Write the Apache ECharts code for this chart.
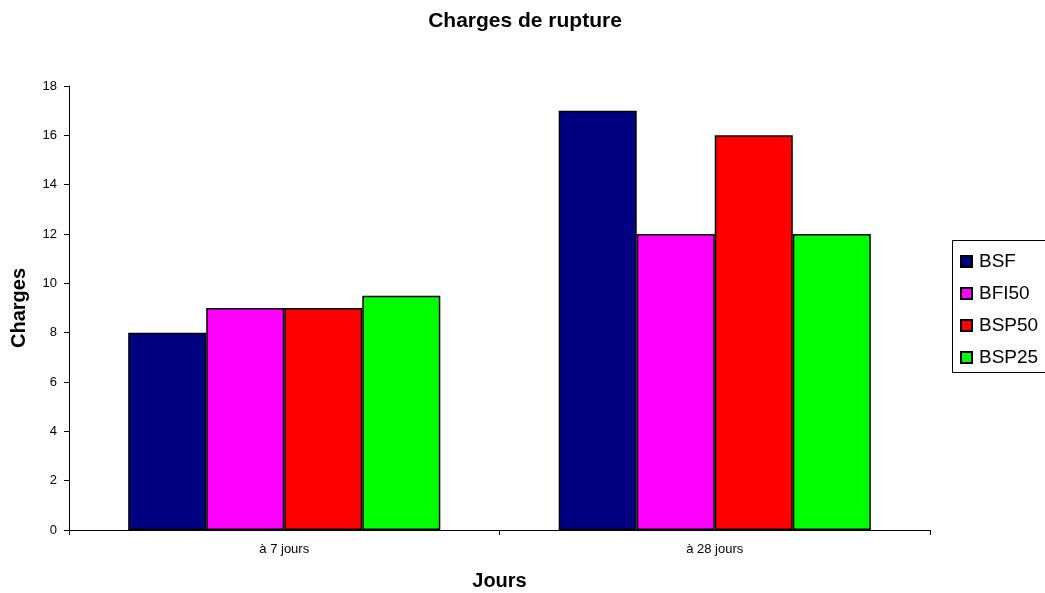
<!DOCTYPE html>
<html>
<head>
<meta charset="utf-8">
<style>
  html, body { margin: 0; padding: 0; background: #fff; }
  #chart { width: 1045px; height: 593px; }
</style>
<script src="https://cdn.jsdelivr.net/npm/echarts@6/dist/echarts.min.js"></script>
</head>
<body>
<div id="chart"></div>
<script>
// Breaking loads per mix, at 7 and 28 days
const categories = ['à 7 jours', 'à 28 jours'];
const seriesNames = ['BSF', 'BFI50', 'BSP50', 'BSP25'];
const BSF = [8, 17];
const BFI50 = [9, 12];
const BSP50 = [9, 16];
const BSP25 = [9.5, 12];
const yTicks = { min: 0, max: 18, interval: 2 };

const colors = ['#000080', '#FF00FF', '#FF0000', '#00FF00'];
const values = [BSF, BFI50, BSP50, BSP25];
const font = 'Liberation Sans, Arial, sans-serif';

const chart = echarts.init(document.getElementById('chart'), null, { renderer: 'canvas' });

chart.setOption({
  animation: false,
  backgroundColor: '#fff',
  color: colors,
  textStyle: { fontFamily: font, color: '#000' },
  title: {
    text: 'Charges de rupture',
    left: 520,
    top: 6,
    textAlign: 'center',
    textStyle: { fontFamily: font, fontSize: 21, fontWeight: 'bold', color: '#000' }
  },
  graphic: [
    {
      type: 'rect',
      z: 0,
      shape: { x: 952.5, y: 240.5, width: 110, height: 132 },
      style: { fill: '#fff', stroke: '#000', lineWidth: 1 }
    }
  ],
  legend: {
    orient: 'vertical',
    left: 955,
    top: 247,
    itemWidth: 11,
    itemHeight: 11,
    itemGap: 13,
    icon: 'rect',
    z: 5,
    itemStyle: { borderColor: '#000', borderWidth: 2 },
    textStyle: { fontFamily: font, fontSize: 19, color: '#000', padding: [0, 0, 0, 2] },
    data: seriesNames
  },
  grid: { left: 69, right: 115, top: 86, bottom: 63, containLabel: false, outerBoundsMode: 'none' },
  xAxis: {
    type: 'category',
    data: categories,
    name: 'Jours',
    nameLocation: 'middle',
    nameGap: 41,
    nameTextStyle: { fontFamily: font, fontSize: 20, fontWeight: 'bold', color: '#000' },
    axisLine: { lineStyle: { color: '#000', width: 1 } },
    axisTick: { show: true, length: 5, lineStyle: { color: '#000' } },
    axisLabel: { fontFamily: font, fontSize: 13, color: '#000', margin: 13 },
    splitLine: { show: false }
  },
  yAxis: {
    type: 'value',
    min: yTicks.min,
    max: yTicks.max,
    interval: yTicks.interval,
    name: 'Charges',
    nameLocation: 'middle',
    nameGap: 40,
    nameRotate: 90,
    nameTextStyle: { fontFamily: font, fontSize: 20, fontWeight: 'bold', color: '#000' },
    axisLine: { show: true, lineStyle: { color: '#000', width: 1 } },
    axisTick: { show: true, length: 5, lineStyle: { color: '#000' } },
    axisLabel: { fontFamily: font, fontSize: 13, color: '#000', margin: 12 },
    splitLine: { show: false }
  },
  series: seriesNames.map((name, i) => ({
    name: name,
    type: 'bar',
    data: values[i],
    barGap: '0%',
    barCategoryGap: '27.5%',
    itemStyle: { color: colors[i], borderColor: '#000', borderWidth: 1.5 }
  }))
});
</script>
</body>
</html>
